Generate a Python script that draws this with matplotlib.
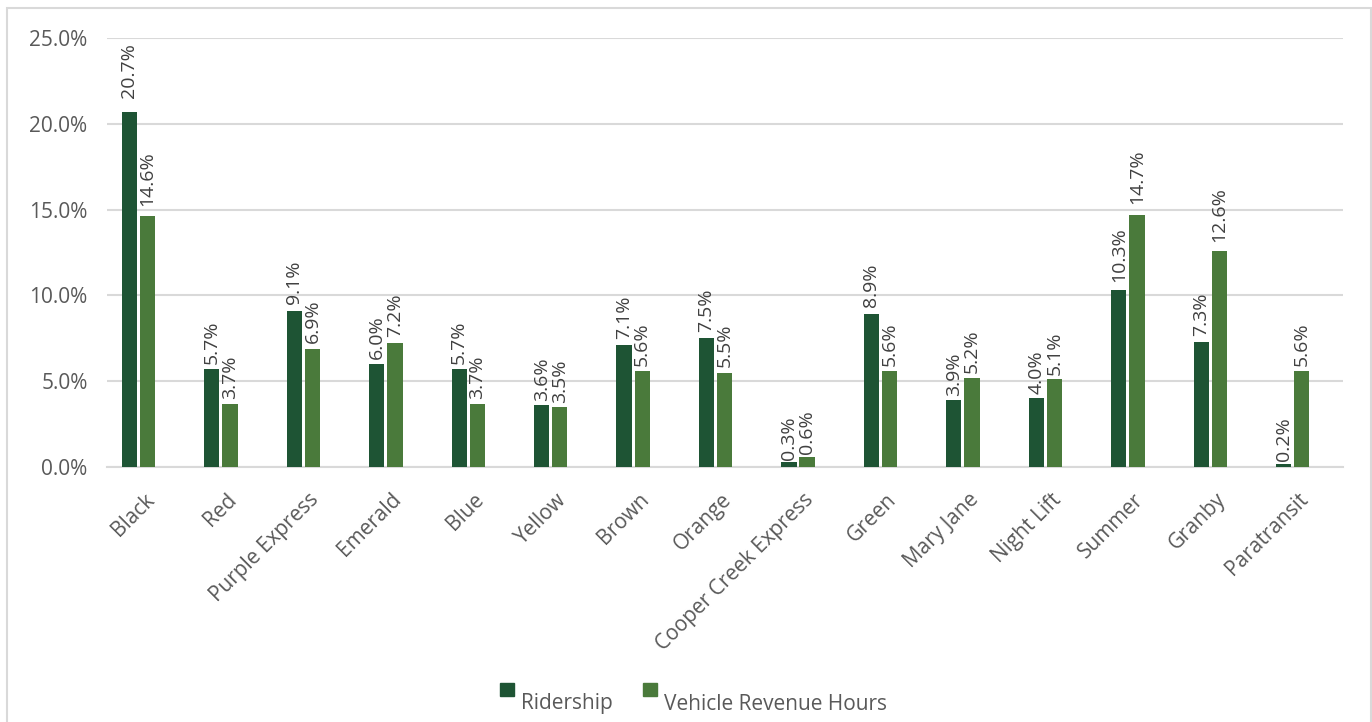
import matplotlib
matplotlib.use("Agg")
import matplotlib.pyplot as plt
from matplotlib.patches import Rectangle
from matplotlib.ticker import FuncFormatter
from matplotlib.transforms import ScaledTranslation
import numpy as np

plt.rcParams['font.family'] = ['Open Sans', 'DejaVu Sans']

routes = ["Black", "Red", "Purple Express", "Emerald", "Blue", "Yellow", "Brown",
          "Orange", "Cooper Creek Express", "Green", "Mary Jane", "Night Lift",
          "Summer", "Granby", "Paratransit"]
ridership = [20.7, 5.7, 9.1, 6.0, 5.7, 3.6, 7.1, 7.5, 0.3, 8.9, 3.9, 4.0, 10.3, 7.3, 0.2]
revenue_hours = [14.6, 3.7, 6.9, 7.2, 3.7, 3.5, 5.6, 5.5, 0.6, 5.6, 5.2, 5.1, 14.7, 12.6, 5.6]
series_names = ["Ridership", "Vehicle Revenue Hours"]

dark_green = "#1e5434"
light_green = "#4a7a3b"
text_gray = "#595959"
grid_gray = "#d9d9d9"

W, H = 1372, 722
fig = plt.figure(figsize=(W / 100, H / 100), dpi=100)

# outer chart border (open at the bottom)
fig.patches.append(Rectangle((7 / W, -0.05), (1371 - 7) / W, 1.05 - 8 / H,
                             transform=fig.transFigure, fill=False,
                             edgecolor=grid_gray, linewidth=1.5))

ax = fig.add_axes([107 / W, 1 - 467 / H, (1343 - 107) / W, (467 - 38) / H])

x = np.arange(len(routes))
bw = 0.185
gap = 0.035
b1 = ax.bar(x - bw / 2 - gap / 2, ridership, bw, color=dark_green, zorder=3)
b2 = ax.bar(x + bw / 2 + gap / 2, revenue_hours, bw, color=light_green, zorder=3)

for bars, vals in ((b1, ridership), (b2, revenue_hours)):
    for rect, v in zip(bars, vals):
        ax.annotate(f"{v:.1f}%", (rect.get_x() + rect.get_width() / 2, v),
                    xytext=(0, 1.5 + 0.4 * v), textcoords="offset points",
                    rotation=90, ha="center", va="bottom",
                    fontsize=14, color="#404040")

ax.set_ylim(0, 25)
ax.set_xlim(-0.382, len(routes) - 0.39)
ax.set_yticks(np.arange(0, 25.1, 5))
ax.yaxis.set_major_formatter(FuncFormatter(lambda v, p: f"{v:.1f}%"))
ax.yaxis.grid(True, color=grid_gray, linewidth=1.5, zorder=0)
ax.set_axisbelow(True)
for s in ("top", "right", "left"):
    ax.spines[s].set_visible(False)
ax.spines["bottom"].set_color(grid_gray)
ax.spines["bottom"].set_linewidth(1.5)
ax.tick_params(axis="both", length=0, labelsize=15, labelcolor=text_gray)
ax.tick_params(axis="y", pad=14)
ax.set_xticks(x)
ax.set_xticklabels(routes, rotation=45, ha="right", rotation_mode="anchor")
ax.tick_params(axis="x", pad=16)
shift = ScaledTranslation(5 / 100, 0, fig.dpi_scale_trans)
for lbl in ax.get_xticklabels():
    lbl.set_transform(lbl.get_transform() + shift)

# legend: swatch raised above its label
for name, col, sx, tx in ((series_names[0], dark_green, 500, 521),
                          (series_names[1], light_green, 643, 664)):
    fig.patches.append(Rectangle((sx / W, 1 - 696 / H), 14 / W, 13 / H,
                                 transform=fig.transFigure, color=col))
    fig.text(tx / W, 1 - 704 / H, name, fontsize=15, color=text_gray,
             ha="left", va="center")

fig.savefig("out.png", dpi=100, facecolor="white")
